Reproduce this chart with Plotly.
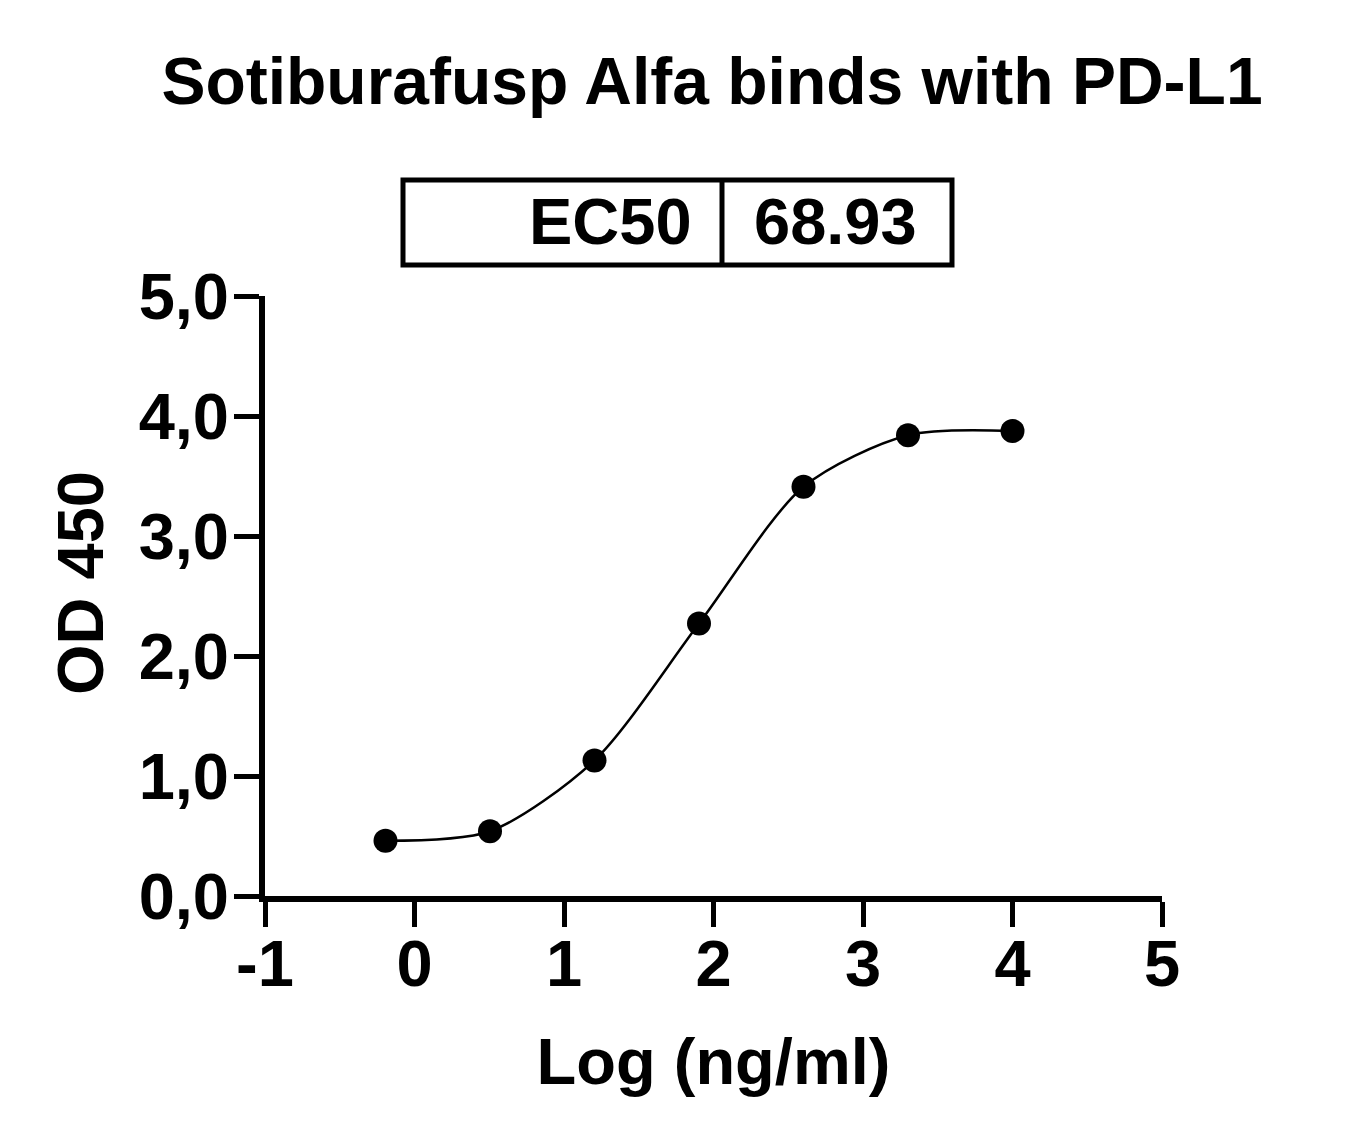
import plotly.graph_objects as go

# ---------------------------
# Data
# ---------------------------
log_conc = [-0.194, 0.505, 1.204, 1.903, 2.602, 3.301, 4.0]   # log10(ng/ml)
od450 = [0.46, 0.54, 1.13, 2.27, 3.41, 3.84, 3.875]

ec50_label = "EC50"
ec50_value = "68.93"

x_tickvals = [-1, 0, 1, 2, 3, 4, 5]
x_ticktext = ["-1", "0", "1", "2", "3", "4", "5"]
y_tickvals = [0, 1, 2, 3, 4, 5]
y_ticktext = ["0,0", "1,0", "2,0", "3,0", "4,0", "5,0"]

# ---------------------------
# Layout constants (page pixels)
# ---------------------------
W, H = 1362, 1142
OFF = 8                      # default body margin of the html page
FW, FH = W - 2 * OFF, H - 2 * OFF
L, R, T, B = 265, 1162, 296, 896
FONT = "Liberation Sans, Arial, Helvetica, sans-serif"
FS = 65


def px_x(p):
    return (p - L) / (R - L)


def px_y(p):
    return (B - p) / (B - T)


fig = go.Figure()

# fitted curve, drawn smoothly through the points
fig.add_trace(go.Scatter(
    x=log_conc, y=od450, mode="lines",
    line=dict(color="black", width=2.5, shape="spline", smoothing=0.8),
    hoverinfo="skip", showlegend=False,
))
fig.add_trace(go.Scatter(
    x=log_conc, y=od450, mode="markers",
    marker=dict(color="black", size=24),
    showlegend=False,
))

axis_common = dict(
    showgrid=False, zeroline=False,
    showline=True, linecolor="black", linewidth=6,
    ticks="outside", ticklen=25, tickwidth=5, tickcolor="black",
    tickfont=dict(family=FONT, size=FS, color="black", weight="bold"),
    title_font=dict(family=FONT, size=FS, color="black", weight="bold"),
)

fig.update_xaxes(
    range=[-1, 5], tickvals=x_tickvals, ticktext=x_ticktext,
    ticklabelstandoff=-19,
    title_text="Log (ng/ml)", title_standoff=41, **axis_common,
)
fig.update_yaxes(
    range=[0, 5], tickvals=y_tickvals, ticktext=y_ticktext,
    ticklabelstandoff=-8, **axis_common,
)

# y axis title
fig.add_annotation(text="OD 450", xref="paper", yref="paper",
                   x=px_x(80), y=px_y(583), xanchor="center", yanchor="middle",
                   textangle=-90, showarrow=False,
                   font=dict(family=FONT, size=FS, color="black", weight="bold"))

# EC50 table box
box_x0, box_div, box_x1 = px_x(403), px_x(722), px_x(952)
box_y0, box_y1 = px_y(265), px_y(180)
line = dict(color="black", width=5)
fig.add_shape(type="rect", xref="paper", yref="paper",
              x0=box_x0, x1=box_x1, y0=box_y0, y1=box_y1, line=line)
fig.add_shape(type="line", xref="paper", yref="paper",
              x0=box_div, x1=box_div, y0=box_y0, y1=box_y1, line=line)

text_font = dict(family=FONT, size=FS, color="black", weight="bold")
fig.add_annotation(text=ec50_label, xref="paper", yref="paper",
                   x=px_x(694), y=px_y(221), xanchor="right", yanchor="middle",
                   showarrow=False, font=text_font)
fig.add_annotation(text=ec50_value, xref="paper", yref="paper",
                   x=px_x(835), y=px_y(221), xanchor="center", yanchor="middle",
                   showarrow=False, font=text_font)

fig.update_layout(
    width=FW, height=FH,
    margin=dict(l=L - OFF, r=FW - (R - OFF), t=T - OFF, b=FH - (B - OFF),
                autoexpand=False),
    paper_bgcolor="white", plot_bgcolor="white",
    font=dict(family=FONT, color="black", weight="bold"),
    title=dict(
        text="Sotiburafusp Alfa binds with PD-L1",
        x=(712 - OFF) / FW, xanchor="center",
        y=1 - (81 - OFF) / FH, yanchor="middle",
        font=dict(family=FONT, size=66, color="black", weight="bold"),
    ),
)

fig.write_html("out.html")
